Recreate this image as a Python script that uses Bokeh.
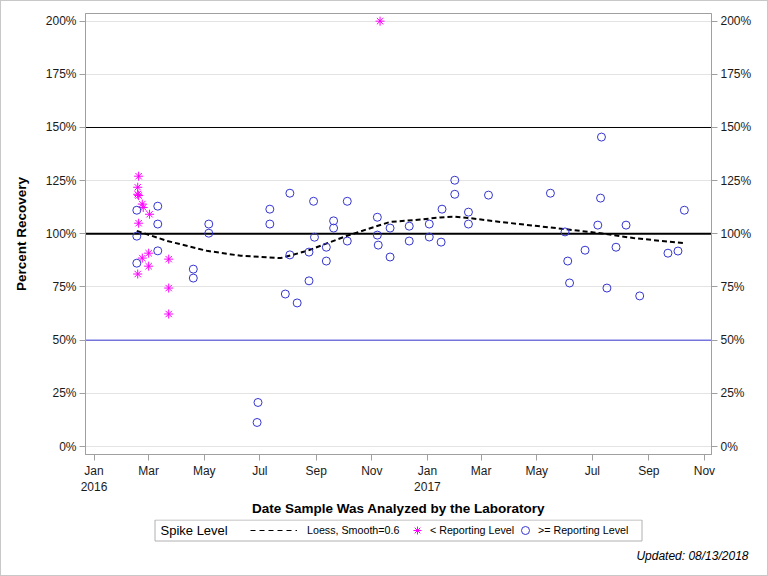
import numpy as np
import pandas as pd
from bokeh.plotting import figure
from bokeh.layouts import column
from bokeh.models import (ColumnDataSource, FixedTicker, LinearAxis, Span, Legend,
                          LegendItem, Label, BoxAnnotation, PrintfTickFormatter, Range1d)
from bokeh.embed import file_html
from bokeh.resources import INLINE

# Spike recoveries below the reporting level
lt_dates = ["2016-02-19", "2016-02-18", "2016-02-18", "2016-02-19", "2016-02-23",
            "2016-02-24", "2016-03-02", "2016-02-19", "2016-03-01", "2016-02-23",
            "2016-03-01", "2016-02-18", "2016-03-23", "2016-03-23", "2016-03-23",
            "2016-11-10"]
lt_values = [127.1, 121.9, 118.6, 118.0, 114.0, 112.4, 109.2, 105.0, 90.9, 88.6,
             84.8, 81.1, 88.1, 74.5, 62.3, 200.0]

# Spike recoveries at or above the reporting level
ge_dates = ["2016-02-17", "2016-02-17", "2016-02-17", "2016-03-11", "2016-03-11",
            "2016-03-11", "2016-04-19", "2016-04-19", "2016-05-06", "2016-05-06",
            "2016-06-29", "2016-06-28", "2016-07-12", "2016-07-12", "2016-08-03",
            "2016-08-03", "2016-07-29", "2016-08-11", "2016-08-24", "2016-08-24",
            "2016-08-29", "2016-08-30", "2016-09-12", "2016-09-12", "2016-09-20",
            "2016-09-20", "2016-10-05", "2016-10-05", "2016-11-07", "2016-11-07",
            "2016-11-08", "2016-11-21", "2016-11-21", "2016-12-12", "2016-12-12",
            "2017-01-03", "2017-01-03", "2017-01-16", "2017-01-17", "2017-01-31",
            "2017-01-31", "2017-02-15", "2017-02-15", "2017-03-09", "2017-05-16",
            "2017-06-01", "2017-06-04", "2017-06-06", "2017-06-23", "2017-07-07",
            "2017-07-10", "2017-07-11", "2017-07-17", "2017-07-27", "2017-08-07",
            "2017-08-22", "2017-09-22", "2017-10-03", "2017-10-10"]
ge_values = [111.1, 98.9, 86.2, 113.0, 104.6, 92.0, 83.4, 79.2, 104.6, 100.3,
             20.7, 11.3, 111.6, 104.6, 119.1, 90.1, 71.7, 67.5, 77.9, 91.4,
             115.3, 98.4, 93.7, 87.2, 106.1, 102.7, 115.3, 96.6, 107.8, 99.4,
             94.7, 102.7, 89.1, 103.6, 96.6, 104.6, 98.5, 96.1, 111.6, 125.2,
             118.6, 110.2, 104.6, 118.2, 119.1, 100.9, 87.2, 76.9, 92.3, 104.1,
             116.8, 145.5, 74.5, 93.7, 104.1, 70.8, 90.9, 91.9, 111.1]

# Loess fit (smooth = 0.6)
loess_dates = ["2016-02-17", "2016-03-21", "2016-05-04", "2016-06-10", "2016-07-24",
               "2016-08-22", "2016-09-20", "2016-10-05", "2016-10-27", "2016-11-21",
               "2016-12-16", "2017-01-15", "2017-01-31", "2017-02-20", "2017-03-22",
               "2017-06-01", "2017-07-10", "2017-08-15", "2017-10-10"]
loess_values = [101.4, 96.7, 92.0, 89.7, 88.6, 92.0, 96.7, 99.1, 102.2, 105.6,
                106.4, 107.7, 108.1, 107.2, 105.6, 102.2, 100.3, 98.0, 95.6]

# Axis ticks
y_ticks = [0, 25, 50, 75, 100, 125, 150, 175, 200]
x_tick_dates = ["2016-01-01", "2016-03-01", "2016-05-01", "2016-07-01", "2016-09-01",
                "2016-11-01", "2017-01-01", "2017-03-01", "2017-05-01", "2017-07-01",
                "2017-09-01", "2017-11-01"]
x_tick_labels = ["Jan\n2016", "Mar", "May", "Jul", "Sep", "Nov",
                 "Jan\n2017", "Mar", "May", "Jul", "Sep", "Nov"]

FONT = "Liberation Sans"
AXIS_GREY = "#a0a0a0"
STAR_COLOR = "#ff00ff"
CIRCLE_COLOR = "#3535d0"

lt_src = ColumnDataSource(dict(date=pd.to_datetime(lt_dates), value=lt_values))
ge_src = ColumnDataSource(dict(date=pd.to_datetime(ge_dates), value=ge_values))
lo_src = ColumnDataSource(dict(date=pd.to_datetime(loess_dates), value=loess_values))

W = 766
p = figure(width=W, height=518, x_axis_type="datetime", output_backend="svg",
           toolbar_location=None,
           x_range=Range1d(pd.Timestamp("2015-12-22 16:00"), pd.Timestamp("2017-11-08 19:00")),
           y_range=Range1d(-3.76, 203.6),
           min_border_left=84, min_border_right=56, min_border_top=12, min_border_bottom=65)
p.frame_align = False
p.outline_line_color = AXIS_GREY
p.background_fill_color = "white"
p.border_fill_color = "white"

# grid
p.xgrid.visible = False
p.ygrid.ticker = FixedTicker(ticks=y_ticks)
p.ygrid.grid_line_color = "#e3e3e3"

# reference lines
for loc, color, width in [(150, "black", 1), (100, "black", 2), (50, "#3a3ad6", 1)]:
    p.add_layout(Span(location=loc, dimension="width", line_color=color,
                      line_width=width, level="underlay"))

# marks
p.line(x="date", y="value", source=lo_src, line_color="black",
       line_width=2, line_dash="5 3")
p.scatter(x="date", y="value", source=lt_src, marker="asterisk", size=9,
          line_color=STAR_COLOR, line_width=1)
p.scatter(x="date", y="value", source=ge_src, marker="circle", size=8,
          fill_color=None, line_color=CIRCLE_COLOR, line_width=1)

# y axes (left and right)
yfmt = PrintfTickFormatter(format="%d%%")
p.yaxis.ticker = FixedTicker(ticks=y_ticks)
p.yaxis.formatter = yfmt
p.yaxis.axis_label = "Percent Recovery"
p.yaxis.axis_label_standoff = 14
yr = LinearAxis(ticker=FixedTicker(ticks=y_ticks), formatter=yfmt)
p.add_layout(yr, "right")

# x axis
tick_ms = [pd.Timestamp(d).value / 1e6 for d in x_tick_dates]
p.xaxis.ticker = FixedTicker(ticks=tick_ms)
p.xaxis.major_label_overrides = {t: lab for t, lab in zip(tick_ms, x_tick_labels)}
p.xaxis.axis_label = "Date Sample Was Analyzed by the Laboratory"
p.xaxis.axis_label_standoff = 4

for ax in p.axis:
    ax.axis_line_color = AXIS_GREY
    ax.major_tick_line_color = AXIS_GREY
    ax.major_tick_out = 6
    ax.major_tick_in = 0
    ax.minor_tick_out = 0
    ax.minor_tick_in = 0
    ax.major_label_standoff = 3
    ax.major_label_text_font = FONT
    ax.major_label_text_font_size = "12px"
    ax.major_label_text_color = "#1a1a1a"
    ax.axis_label_text_font = FONT
    ax.axis_label_text_font_size = "13.5px"
    ax.axis_label_text_font_style = "bold"
    ax.axis_label_text_color = "black"

# legend strip and footnote
H2 = 56
q = figure(width=W, height=H2, output_backend="svg", toolbar_location=None,
           x_range=Range1d(0, W), y_range=Range1d(0, H2),
           min_border=0, x_axis_location=None, y_axis_location=None)
q.frame_align = False
q.grid.visible = False
q.outline_line_color = None
q.background_fill_color = "white"
q.border_fill_color = "white"

# legend keys styled like the plotted series (no visible data of their own)
nan_src = dict(x=[np.nan], y=[np.nan])
loess_key = q.line(x="x", y="y", source=ColumnDataSource(nan_src),
                   line_color="black", line_width=1, line_dash="5 4")
lt_key = q.scatter(x="x", y="y", source=ColumnDataSource(nan_src), marker="asterisk",
                   line_color=STAR_COLOR, line_width=1)
ge_key = q.scatter(x="x", y="y", source=ColumnDataSource(nan_src), marker="circle",
                   fill_color=None, line_color=CIRCLE_COLOR, line_width=1)

q.add_layout(BoxAnnotation(left=153.5, right=640.5, top=55.5, bottom=34.5,
                           left_units="screen", right_units="screen",
                           top_units="screen", bottom_units="screen",
                           fill_alpha=0, line_color="#b0b0b0", line_alpha=1,
                           line_width=1))
q.add_layout(Label(x=159, y=45, x_units="screen", y_units="screen", text="Spike Level",
                   text_font=FONT, text_font_size="13px", text_baseline="middle",
                   text_color="black"))

def key_legend(renderer, label, x, glyph_w, standoff):
    return Legend(items=[LegendItem(label=label, renderers=[renderer])],
                  location=(x, 35), orientation="horizontal",
                  glyph_width=glyph_w, glyph_height=20, label_standoff=standoff,
                  padding=0, margin=0, spacing=0,
                  border_line_alpha=0, background_fill_alpha=0,
                  label_text_font=FONT, label_text_font_size="10.7px",
                  label_text_color="black")

q.add_layout(key_legend(loess_key, "Loess, Smooth=0.6", 249, 47, 10), "center")
q.add_layout(key_legend(lt_key, "< Reporting Level", 406, 20, 3), "center")
q.add_layout(key_legend(ge_key, ">= Reporting Level", 514, 20, 3), "center")

q.add_layout(Label(x=747, y=20, x_units="screen", y_units="screen",
                   text="Updated: 08/13/2018", text_align="right",
                   text_baseline="middle", text_font=FONT, text_font_size="12px",
                   text_font_style="italic", text_color="black"))

page = column(p, q, spacing=0, styles={"border": "1px solid #c8c8c8"})

open("out.html", "w").write(file_html(page, INLINE))
